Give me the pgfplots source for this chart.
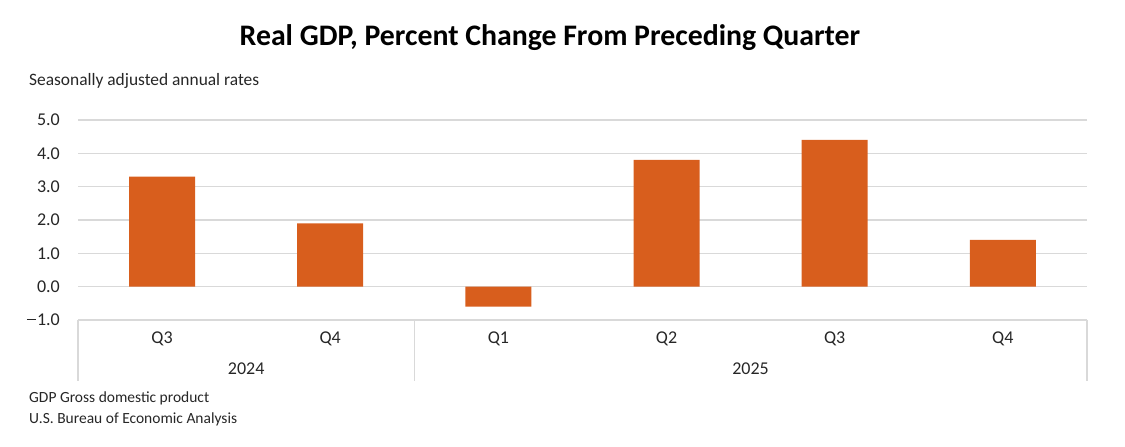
\documentclass[border=0pt]{standalone}
\usepackage{fontspec}
\setmainfont{Carlito}
\usepackage{pgfplots}
\pgfplotsset{compat=1.18}
\definecolor{gdpbar}{RGB}{216,94,29}
\definecolor{gridc}{RGB}{217,217,217}
\definecolor{txt}{RGB}{38,38,38}
\newcommand{\minus}{\raisebox{0.3em}{\rule{0.48em}{0.075em}}\hspace{0.08em}}

\begin{document}
\begin{tikzpicture}[x=1pt,y=1pt]
\useasboundingbox (0,0) rectangle (1125,447);
\begin{axis}[
    at={(78pt,127pt)}, anchor=south west,
    scale only axis, width=1009pt, height=200pt,
    xmin=-0.5, xmax=5.5, ymin=-1, ymax=5,
    ybar, bar width=66pt,
    ytick={-1,0,1,2,3,4,5},
    yticklabels={\minus1.0,0.0,1.0,2.0,3.0,4.0,5.0},
    xtick={0,1,2,3,4,5},
    xticklabels={Q3,Q4,Q1,Q2,Q3,Q4},
    ymajorgrids,
    grid style={gridc, line width=1.2pt},
    axis line style={draw=none},
    major tick length=0pt,
    yticklabel style={font=\fontsize{18}{20}\selectfont, text=txt, inner sep=0pt, anchor=east, xshift=-18pt},
    xticklabel style={font=\fontsize{18}{20}\selectfont, text=txt, inner sep=0pt, anchor=north, yshift=-12pt},
    clip=false,
]
\addplot[fill=gdpbar, draw=none] coordinates {
    (0,3.3) (1,1.9) (2,-0.6) (3,3.8) (4,4.4) (5,1.4)
};

% year groups
\draw[gridc, line width=1.2pt] (axis cs:-0.5,-1) -- ([yshift=-61pt]axis cs:-0.5,-1);
\draw[gridc, line width=1.2pt] (axis cs:1.5,-1) -- ([yshift=-61pt]axis cs:1.5,-1);
\draw[gridc, line width=1.2pt] (axis cs:5.5,-1) -- ([yshift=-61pt]axis cs:5.5,-1);
\node[font=\fontsize{18}{20}\selectfont, text=txt, inner sep=0pt] at ([yshift=-49pt]axis cs:0.5,-1) {2024};
\node[font=\fontsize{18}{20}\selectfont, text=txt, inner sep=0pt] at ([yshift=-49pt]axis cs:3.5,-1) {2025};
\end{axis}

\node[anchor=base, inner sep=0pt, font=\fontsize{29.8}{34}\selectfont\bfseries] at (550,401) {Real GDP, Percent Change From Preceding Quarter};
\node[anchor=base west, inner sep=0pt, text=txt, font=\fontsize{17.4}{20}\selectfont] at (29,361) {Seasonally adjusted annual rates};
\node[anchor=base west, inner sep=0pt, text=txt, font=\fontsize{15.5}{18}\selectfont] at (29,44) {GDP Gross domestic product};
\node[anchor=base west, inner sep=0pt, text=txt, font=\fontsize{15.5}{18}\selectfont] at (29,23) {U.S. Bureau of Economic Analysis};
\end{tikzpicture}
\end{document}
